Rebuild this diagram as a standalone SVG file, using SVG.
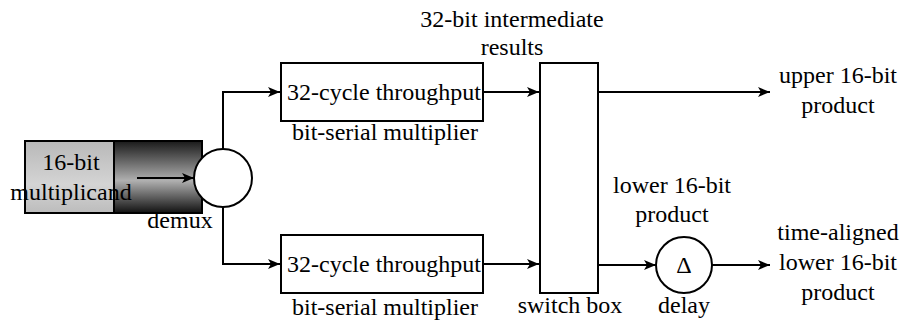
<svg xmlns="http://www.w3.org/2000/svg" width="907" height="327" viewBox="0 0 907 327">
<defs>
<marker id="ah" markerWidth="12" markerHeight="10" refX="12" refY="5" orient="auto" markerUnits="userSpaceOnUse">
<path d="M0,0 L12,5 L0,10 L3,5 Z" fill="#000"/>
</marker>
<linearGradient id="gl" x1="0" y1="0" x2="0" y2="1">
<stop offset="0" stop-color="#b8b8b8"/>
<stop offset="0.6" stop-color="#d4d4d4"/>
<stop offset="1" stop-color="#bcbcbc"/>
</linearGradient>
<linearGradient id="gd" x1="0" y1="0" x2="0" y2="1">
<stop offset="0" stop-color="#1a1a1a"/>
<stop offset="0.55" stop-color="#b0b0b0"/>
<stop offset="1" stop-color="#111"/>
</linearGradient>
</defs>
<g id="multiplicand">
<rect x="25" y="141" width="89" height="72" fill="url(#gl)" stroke="#000" stroke-width="2"/>
<rect x="114" y="141" width="88" height="72" fill="url(#gd)" stroke="#000" stroke-width="2"/>
<text x="71" y="170" font-family="Liberation Serif" font-size="24" text-anchor="middle">16-bit</text>
<text x="71" y="200" font-family="Liberation Serif" font-size="24" text-anchor="middle">multiplicand</text>
</g>
<g id="demux">
<circle cx="223" cy="178" r="29" fill="#fff" stroke="#000" stroke-width="2"/>
<text x="180" y="228" font-family="Liberation Serif" font-size="24" text-anchor="middle">demux</text>
</g>
<g id="mult1">
<rect x="281" y="63" width="202" height="58" fill="#fff" stroke="#000" stroke-width="2"/>
<text x="384" y="100" font-family="Liberation Serif" font-size="24" text-anchor="middle">32-cycle throughput</text>
<text x="385" y="140" font-family="Liberation Serif" font-size="24" text-anchor="middle">bit-serial multiplier</text>
</g>
<g id="mult2">
<rect x="281" y="235" width="202" height="58" fill="#fff" stroke="#000" stroke-width="2"/>
<text x="384" y="272" font-family="Liberation Serif" font-size="24" text-anchor="middle">32-cycle throughput</text>
<text x="385" y="315" font-family="Liberation Serif" font-size="24" text-anchor="middle">bit-serial multiplier</text>
</g>
<g id="switch">
<rect x="540" y="63" width="58" height="230" fill="#fff" stroke="#000" stroke-width="2"/>
<text x="570" y="313" font-family="Liberation Serif" font-size="24" text-anchor="middle">switch box</text>
</g>
<g id="delay">
<circle cx="684" cy="265" r="28" fill="#fff" stroke="#000" stroke-width="2"/>
<text x="684" y="273" font-family="Liberation Serif" font-size="24" text-anchor="middle">&#916;</text>
<text x="684" y="313" font-family="Liberation Serif" font-size="24" text-anchor="middle">delay</text>
</g>
<g id="labels">
<text x="512" y="27" font-family="Liberation Serif" font-size="24" text-anchor="middle">32-bit intermediate</text>
<text x="512" y="55" font-family="Liberation Serif" font-size="24" text-anchor="middle">results</text>
<text x="838" y="83" font-family="Liberation Serif" font-size="24" text-anchor="middle">upper 16-bit</text>
<text x="838" y="113" font-family="Liberation Serif" font-size="24" text-anchor="middle">product</text>
<text x="672" y="193" font-family="Liberation Serif" font-size="24" text-anchor="middle">lower 16-bit</text>
<text x="672" y="222" font-family="Liberation Serif" font-size="24" text-anchor="middle">product</text>
<text x="838" y="240" font-family="Liberation Serif" font-size="24" text-anchor="middle">time-aligned</text>
<text x="838" y="270" font-family="Liberation Serif" font-size="24" text-anchor="middle">lower 16-bit</text>
<text x="838" y="300" font-family="Liberation Serif" font-size="24" text-anchor="middle">product</text>
</g>
<g id="connectors" fill="none" stroke="#000" stroke-width="2">
<line x1="137" y1="178" x2="194" y2="178" marker-end="url(#ah)"/>
<polyline points="223,149 223,92 280,92" marker-end="url(#ah)"/>
<polyline points="223,207 223,264 280,264" marker-end="url(#ah)"/>
<line x1="483" y1="92" x2="539" y2="92" marker-end="url(#ah)"/>
<line x1="483" y1="264" x2="539" y2="264" marker-end="url(#ah)"/>
<line x1="598" y1="92" x2="770" y2="92" marker-end="url(#ah)"/>
<line x1="598" y1="265" x2="656" y2="265" marker-end="url(#ah)"/>
<line x1="712" y1="265" x2="770" y2="265" marker-end="url(#ah)"/>
</g>
</svg>
